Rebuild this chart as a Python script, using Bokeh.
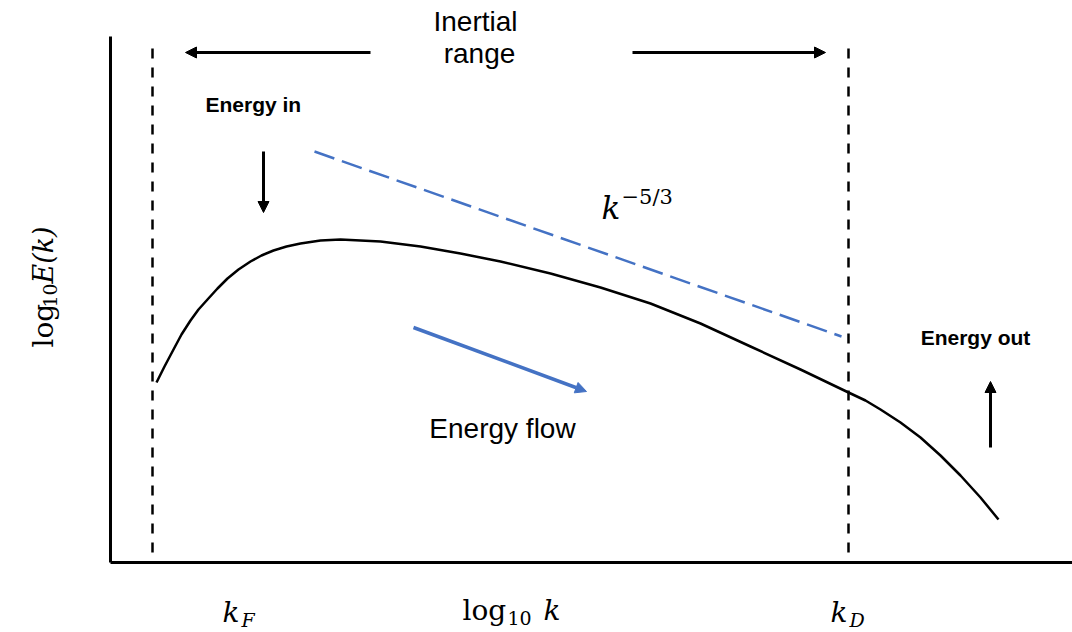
import numpy as np
from bokeh.plotting import figure
from bokeh.models import Range1d, Arrow, NormalHead, ColumnDataSource
from bokeh.core.properties import value
from bokeh.embed import file_html
from bokeh.resources import INLINE

# ---------------- data (schematic coordinates, picture units) ----------------
# energy spectrum curve E(k)
curve_x = [156, 164, 173, 181, 190, 198, 207, 217, 227, 238, 250, 261, 273, 286,
           300, 320, 340, 380, 420, 460, 500, 550, 600, 650, 700, 750, 800,
           848, 865, 880, 900, 920, 940, 960, 980, 998]
curve_y = [382, 366, 349, 334, 320, 309, 299, 288, 278, 269, 261, 255, 250, 246,
           243, 240, 239, 241, 246, 253, 261, 273, 287, 303, 323, 346, 369,
           392, 400, 409, 422, 437, 455, 475, 497, 519]

# k^-5/3 reference slope
slope_x = [314, 841]
slope_y = [151, 336]

# dashed bounds at k_F and k_D
bound_x = [152, 848]
bound_top = [48, 48]
bound_bottom = [562, 562]

# axis lines
axis_x0 = [110, 110]
axis_y0 = [36, 562]
axis_x1 = [110, 1072]
axis_y1 = [562, 562]

# black arrows: inertial range (left, right), energy in, energy out
arrow_x0 = [370, 632, 263, 990]
arrow_y0 = [52, 52, 151, 447]
arrow_x1 = [185, 825, 263, 990]
arrow_y1 = [52, 52, 212, 381]

# blue energy-flow arrow
flow_x0 = [413]
flow_y0 = [327]
flow_x1 = [586]
flow_y1 = [391]

# plain labels
label_text = ["Inertial", "range", "Energy flow"]
label_x = [475, 479, 502]
label_y = [21, 53, 428]

bold_text = ["Energy in", "Energy out"]
bold_x = [205, 975]
bold_y = [104, 337]

BLUE = "#4472C4"
W, H = 1072, 632

p = figure(width=W, height=H, x_range=Range1d(0, W), y_range=Range1d(H, 0),
           output_backend="svg", toolbar_location=None, min_border=0,
           x_axis_location=None, y_axis_location=None)
p.outline_line_color = None
p.xgrid.grid_line_color = None
p.ygrid.grid_line_color = None
p.background_fill_color = "white"

# axes
p.segment(axis_x0, axis_y0, axis_x1, axis_y1, line_color="black", line_width=3)

# dashed bounds
p.segment(bound_x, bound_top, bound_x, bound_bottom, line_color="black",
          line_width=2.5, line_dash="10 9")

# slope line
p.line(slope_x, slope_y, line_color=BLUE, line_width=2.5, line_dash="21 8")

# curve
p.line(curve_x, curve_y, line_color="black", line_width=2.5, line_join="round")

# arrows
asrc = ColumnDataSource(dict(x0=arrow_x0, y0=arrow_y0, x1=arrow_x1, y1=arrow_y1))
p.add_layout(Arrow(source=asrc, x_start="x0", y_start="y0", x_end="x1", y_end="y1",
                   line_color="black", line_width=3,
                   end=NormalHead(size=11, fill_color="black", line_color="black", line_width=1)))
fsrc = ColumnDataSource(dict(x0=flow_x0, y0=flow_y0, x1=flow_x1, y1=flow_y1))
p.add_layout(Arrow(source=fsrc, x_start="x0", y_start="y0", x_end="x1", y_end="y1",
                   line_color=BLUE, line_width=3.5,
                   end=NormalHead(size=11, fill_color=BLUE, line_color=BLUE, line_width=1)))

# texts
p.text(label_x, label_y, text=label_text, text_font=value("Liberation Sans"),
       text_font_size="28px", text_align="center", text_baseline="middle", text_color="black")
p.text(bold_x[:1], bold_y[:1], text=bold_text[:1], text_font=value("Liberation Sans"),
       text_font_size="21px", text_font_style="bold", text_align="left",
       text_baseline="middle", text_color="black")
p.text(bold_x[1:], bold_y[1:], text=bold_text[1:], text_font=value("Liberation Sans"),
       text_font_size="21px", text_font_style="bold", text_align="center",
       text_baseline="middle", text_color="black")

SERIF = value("DejaVu Serif")
# math pieces
math_x = [601, 621, 222, 241, 462, 507, 543, 830, 849]
math_y = [207, 196, 612, 619, 610, 617, 610, 612, 619]
math_t = ["k", "\u22125/3", "k", "F", "log", "10", "k", "k", "D"]
math_s = ["31px", "21px", "28px", "19px", "28px", "19px", "28px", "28px", "19px"]
math_st = ["italic", "normal", "italic", "italic", "normal", "normal", "italic", "italic", "italic"]
msrc = ColumnDataSource(dict(x=math_x, y=math_y, t=math_t, s=math_s, st=math_st))
p.text("x", "y", text="t", source=msrc, text_font=SERIF, text_font_size="s",
       text_font_style="st", text_align="left", text_baseline="alphabetic", text_color="black")

# rotated y label pieces
ylab_x = [43, 49, 43]
ylab_y = [347, 307, 283]
ylab_t = ["log", "10", "E(k)"]
ylab_s = ["28px", "19px", "27px"]
ylab_st = ["normal", "normal", "italic"]
ysrc = ColumnDataSource(dict(x=ylab_x, y=ylab_y, t=ylab_t, s=ylab_s, st=ylab_st))
p.text("x", "y", text="t", source=ysrc, text_font=SERIF, text_font_size="s",
       text_font_style="st", angle=np.pi / 2, text_align="left",
       text_baseline="alphabetic", text_color="black")

open("out.html", "w").write(file_html(p, INLINE))
